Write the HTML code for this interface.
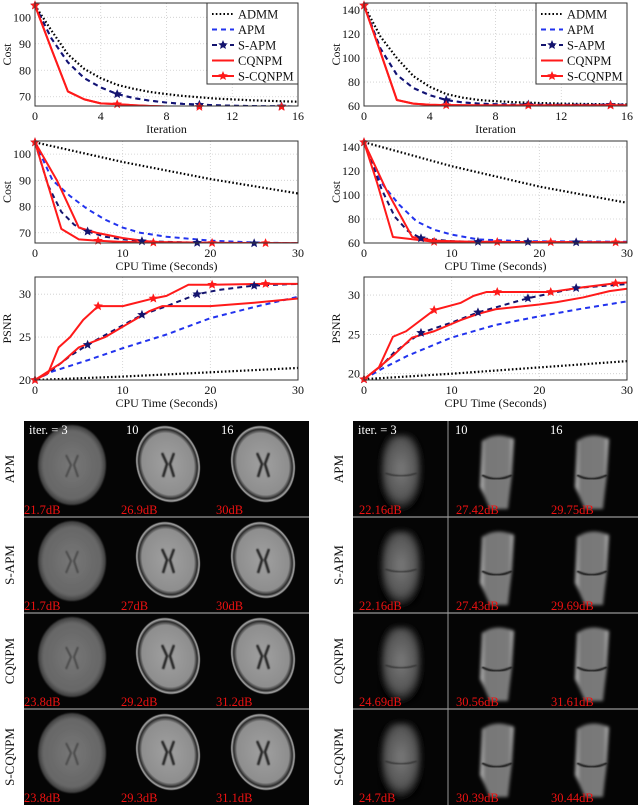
<!DOCTYPE html>
<html><head><meta charset="utf-8">
<style>
html,body{margin:0;padding:0;background:#fff;}
svg{display:block;font-family:"Liberation Serif",serif;}
</style></head>
<body>
<svg id="fig" width="640" height="806" viewBox="0 0 640 806" xmlns="http://www.w3.org/2000/svg">
<defs>
<radialGradient id="brainBlur" cx="50%" cy="50%" r="50%"><stop offset="0" stop-color="#777"/><stop offset="0.85" stop-color="#666"/><stop offset="1" stop-color="#3a3a3a"/></radialGradient>
<radialGradient id="brainSharp" cx="50%" cy="50%" r="50%"><stop offset="0" stop-color="#a0a0a0"/><stop offset="0.8" stop-color="#8e8e8e"/><stop offset="0.9" stop-color="#2a2a2a"/><stop offset="0.96" stop-color="#aaaaaa"/><stop offset="1" stop-color="#111"/></radialGradient>
<radialGradient id="kneeBlur" cx="50%" cy="45%" r="55%"><stop offset="0" stop-color="#7a7a7a"/><stop offset="0.7" stop-color="#555"/><stop offset="1" stop-color="#000"/></radialGradient>
<linearGradient id="kneeSharp" x1="0" x2="1" y1="0" y2="0"><stop offset="0" stop-color="#c8c8c8"/><stop offset="0.15" stop-color="#777"/><stop offset="0.85" stop-color="#7a7a7a"/><stop offset="1" stop-color="#bbb"/></linearGradient>
<filter id="blur3"><feGaussianBlur stdDeviation="3"/></filter>
<filter id="blur1"><feGaussianBlur stdDeviation="0.8"/></filter>
<filter id="blur15"><feGaussianBlur stdDeviation="1.5"/></filter>
</defs>
</svg>
<script>
// ---------- DATA ----------
const iterX = [0,1,2,3,4,5,6,7,8,9,10,11,12,13,14,15,16];
const brainIterAdmm = [104.5,95,86,80.5,77,74.5,73,71.8,71,70.3,69.8,69.3,69,68.7,68.5,68.3,68.1];
const brainIterApm  = [104.5,92,83,77,73.5,71,69.5,68.5,67.8,67.3,67,66.8,66.6,66.5,66.4,66.4,66.3];
const brainIterCq   = [104.5,88,72,69,67.5,67.2,66.8,66.5,66.3,66.3,66.2,66.2,66.2,66.2,66.2,66.2,66.2];
const kneeIterAdmm = [144,118,100,85,76,70,67,65,64,63.3,62.8,62.4,62,61.8,61.6,61.4,61.3];
const kneeIterApm  = [144,108,86,75,69,65,63,62,61.5,61.3,61.2,61.1,61,61,61,61,61];
const kneeIterCq   = [144,105,65,62,61,60.7,60.6,60.5,60.5,60.5,60.5,60.5,60.5,60.5,60.5,60.5,60.5];
const iterMarks = [0,5,10,15];

const bTimeAdmmX=[0,10,20,30], bTimeAdmmY=[104.5,97,90.5,85];
const bTimeApmX=[0,2,4,6,8,10,12,15,20,25,30], bTimeApmY=[104.5,90,84,79,75,72,70,68.5,67,66.3,66];
const bTimeSApmX=[0,1.5,3,4.5,6,8,10,12.2,18.5,25,30], bTimeSApmY=[104.5,88,78,73,70.5,68.5,67.5,66.8,66.2,66,66];
const bTimeSApmM=[0,6,12.2,18.5,25];
const bTimeCqX=[0,2.5,5,7,10,13.5,20,30], bTimeCqY=[104.5,90,72,70,68,66.5,66.2,66];
const bTimeSCqX=[0,1.5,3,5,7,10,15,30], bTimeSCqY=[104.5,88,71.5,67.5,67,66.5,66.2,66];
const bTimeSCqM=[0,7.2,13.5,20.2,26.3];

const kTimeAdmmX=[0,10,20,30], kTimeAdmmY=[144,124,107,93.5];
const kTimeApmX=[0,2,4,6,8,10,13,18,30], kTimeApmY=[144,110,92,78,71,67,63,61.5,61];
const kTimeSApmX=[0,2,3.5,5,6.5,10,13,30], kTimeSApmY=[144,105,82,70,64,61.5,61,60.5];
const kTimeSApmM=[0,6.5,13,18.7,24.2];
const kTimeCqX=[0,2.5,5.5,8,12,30], kTimeCqY=[144,105,65,62,61,60.5];
const kTimeSCqX=[0,1.5,3.3,8,30], kTimeSCqY=[144,110,65,61,60.5];
const kTimeSCqM=[0,8,15.2,21.3,28.7];

const bPsAdmmX=[0,10,20,30], bPsAdmmY=[20,20.4,20.9,21.4];
const bPsApmX=[0,2,6,10,15,20,25,30], bPsApmY=[20,21,22.3,23.7,25.3,27.2,28.5,29.7];
const bPsSApmX=[0,2,4,6,9,12.2,15,18.5,21,25,30], bPsSApmY=[20,21.2,22.8,24.1,25.8,27.6,28.6,30,30.5,31,31.2];
const bPsSApmM=[0,6,12.2,18.5,25];
const bPsCqX=[0,1.5,3,5,8,11,13,14.5,20,25,30], bPsCqY=[20,21,22,23.8,25,26.8,28,28.6,28.6,29,29.5];
const bPsSCqX=[0,1.5,2.7,4,5.5,7.2,10,13.5,15,17.5,20.2,26.3,30], bPsSCqY=[20,20.8,23.8,25,27,28.6,28.6,29.5,29.8,31.1,31.1,31.2,31.2];
const bPsSCqM=[0,7.2,13.5,20.2,26.3];

const kPsAdmmX=[0,10,20,30], kPsAdmmY=[19.3,20,20.8,21.6];
const kPsApmX=[0,2,5,10,15,20,25,30], kPsApmY=[19.3,20.6,22.3,24.6,26.2,27.3,28.3,29.2];
const kPsSApmX=[0,2,3.5,6.5,10,13,18.7,24.2,30], kPsSApmY=[19.3,21,22.8,25.2,26.5,27.8,29.6,30.9,31.4];
const kPsSApmM=[0,6.5,13,18.7,24.2];
const kPsCqX=[0,1.7,3.5,5.5,8,11,13,15,20,22,25,28,30], kPsCqY=[19.3,20.8,22.5,24.6,25.4,26.8,27.6,28.2,28.8,29.1,29.7,30.5,30.8];
const kPsSCqX=[0,1.7,3.3,4.8,8,10,11,12.5,14,15.2,21.3,25,28.7,30], kPsSCqY=[19.3,20.8,24.7,25.4,28.1,28.7,29,29.9,30.4,30.4,30.4,31,31.5,31.6];
const kPsSCqM=[0,8,15.2,21.3,28.7];

const legendLabels=["ADMM","APM","S-APM","CQNPM","S-CQNPM"];
const rowLabels=["APM","S-APM","CQNPM","S-CQNPM"];
const colLabels=["iter. = 3","10","16"];
const brainDb=[["21.7dB","26.9dB","30dB"],["21.7dB","27dB","30dB"],["23.8dB","29.2dB","31.2dB"],["23.8dB","29.3dB","31.1dB"]];
const kneeDb=[["22.16dB","27.42dB","29.75dB"],["22.16dB","27.43dB","29.69dB"],["24.69dB","30.56dB","31.61dB"],["24.7dB","30.39dB","30.44dB"]];

// ---------- DRAW ----------
const NS="http://www.w3.org/2000/svg";
const svg=document.getElementById('fig');
function mk(tag,attrs,parent){const e=document.createElementNS(NS,tag);for(const k in attrs)e.setAttribute(k,attrs[k]);(parent||svg).appendChild(e);return e;}
function txt(s,attrs,parent){const t=mk('text',attrs,parent);t.textContent=s;return t;}
const STY={
 admm:{stroke:'#000',dash:'1.6,2.2',w:2.2},
 apm:{stroke:'#2233ee',dash:'5,4',w:2},
 sapm:{stroke:'#14146e',dash:'5,4',w:2,mark:'#14146e'},
 cq:{stroke:'#ff1a1a',dash:'',w:2},
 scq:{stroke:'#ff1a1a',dash:'',w:2,mark:'#ff1a1a'}
};
function star(cx,cy,r,fill,parent,name){
  let d='';for(let i=0;i<10;i++){const a=-Math.PI/2+i*Math.PI/5;const rr=i%2?r*0.45:r;d+=(i?'L':'M')+(cx+rr*Math.cos(a)).toFixed(2)+','+(cy+rr*Math.sin(a)).toFixed(2);}
  const p=mk('path',{d:d+'Z',fill:fill},parent);
  
  
}
function interp(xs,ys,x){for(let i=0;i<xs.length-1;i++){if(x>=xs[i]&&x<=xs[i+1]){const t=(x-xs[i])/(xs[i+1]-xs[i]);return ys[i]+t*(ys[i+1]-ys[i]);}}return ys[ys.length-1];}

function panel(cfg){
  const g=mk('g',{});
  
  
  const sx=v=>cfg.x0+(v-cfg.xmin)/(cfg.xmax-cfg.xmin)*(cfg.x1-cfg.x0);
  const sy=v=>cfg.y1-(v-cfg.ymin)/(cfg.ymax-cfg.ymin)*(cfg.y1-cfg.y0);
  mk('rect',{x:cfg.x0,y:cfg.y0,width:cfg.x1-cfg.x0,height:cfg.y1-cfg.y0,fill:'#fff'},g);
  cfg.xt.forEach(v=>{const x=sx(v);
    mk('line',{x1:x,x2:x,y1:cfg.y0,y2:cfg.y1,stroke:'#ccc','stroke-dasharray':'1,2','stroke-width':0.8},g);
    const t=txt(String(v),{x:x,y:cfg.y1+14,'text-anchor':'middle','font-size':12,fill:'#111'},g);
    
    });
  cfg.yt.forEach(v=>{const y=sy(v);
    mk('line',{x1:cfg.x0,x2:cfg.x1,y1:y,y2:y,stroke:'#ccc','stroke-dasharray':'1,2','stroke-width':0.8},g);
    const t=txt(String(v),{x:cfg.x0-4,y:y+4,'text-anchor':'end','font-size':12,fill:'#111'},g);
    
    });
  const clip='clip'+cfg.name;
  const cp=mk('clipPath',{id:clip},g);mk('rect',{x:cfg.x0,y:cfg.y0,width:cfg.x1-cfg.x0,height:cfg.y1-cfg.y0},cp);
  const lg=mk('g',{'clip-path':'url(#'+clip+')'},g);
  cfg.series.forEach(s=>{
    const st=STY[s.k];
    const pts=s.x.map((v,i)=>sx(v).toFixed(2)+','+sy(s.y[i]).toFixed(2)).join(' ');
    const pl=mk('polyline',{points:pts,fill:'none',stroke:st.stroke,'stroke-width':st.w,'stroke-dasharray':st.dash,'stroke-linejoin':'round'},lg);
    
    
  });
  cfg.series.forEach(s=>{
    if(!s.m)return;
    s.m.forEach(mv=>star(sx(mv),sy(interp(s.x,s.y,mv)),5,STY[s.k].mark,g,'marker-'+s.k));
  });
  mk('rect',{x:cfg.x0,y:cfg.y0,width:cfg.x1-cfg.x0,height:cfg.y1-cfg.y0,fill:'none',stroke:'#333','stroke-width':1},g);
  const yl=txt(cfg.ylab,{x:0,y:0,transform:`translate(${cfg.x0-24},${(cfg.y0+cfg.y1)/2}) rotate(-90)`,'text-anchor':'middle','font-size':12,fill:'#111'},g);
  
  
  if(cfg.xlab){const xl=txt(cfg.xlab,{x:(cfg.x0+cfg.x1)/2,y:cfg.y1+27,'text-anchor':'middle','font-size':12,fill:'#111'},g);
    
    }
  if(cfg.legend){
    const lx=cfg.x1-91,ly=cfg.y0;
    const lgd=mk('g',{},g);
    
    
    mk('rect',{x:lx,y:ly,width:91,height:81,fill:'#fff',stroke:'#333','stroke-width':1},lgd);
    ['admm','apm','sapm','cq','scq'].forEach((k,i)=>{
      const st=STY[k];const y=ly+11+i*15.5;
      mk('line',{x1:lx+5,x2:lx+27,y1:y,y2:y,stroke:st.stroke,'stroke-width':2,'stroke-dasharray':st.dash},lgd);
      if(st.mark)star(lx+16,y,5,st.mark,lgd,'legend-marker');
      const t=txt(legendLabels[i],{x:lx+31,y:y+4.5,'font-size':12.5,fill:'#111'},lgd);
      
      
    });
  }
}
const L={x0:35,x1:298},R={x0:364,x1:627};
const it=[0,4,8,12,16],tt=[0,10,20,30];
panel({name:'brain-cost-iter',x0:L.x0,x1:L.x1,y0:3,y1:106,xmin:0,xmax:16,ymin:66.5,ymax:105.4,xt:it,yt:[70,80,90,100],ylab:'Cost',xlab:'Iteration',legend:true,
 series:[{k:'admm',x:iterX,y:brainIterAdmm},{k:'apm',x:iterX,y:brainIterApm},{k:'sapm',x:iterX,y:brainIterApm,m:iterMarks},{k:'cq',x:iterX,y:brainIterCq},{k:'scq',x:iterX,y:brainIterCq,m:iterMarks}]});
panel({name:'knee-cost-iter',x0:R.x0,x1:R.x1,y0:3,y1:106,xmin:0,xmax:16,ymin:60,ymax:146,xt:it,yt:[60,80,100,120,140],ylab:'Cost',xlab:'Iteration',legend:true,
 series:[{k:'admm',x:iterX,y:kneeIterAdmm},{k:'apm',x:iterX,y:kneeIterApm},{k:'sapm',x:iterX,y:kneeIterApm,m:iterMarks},{k:'cq',x:iterX,y:kneeIterCq},{k:'scq',x:iterX,y:kneeIterCq,m:iterMarks}]});
panel({name:'brain-cost-time',x0:L.x0,x1:L.x1,y0:141,y1:243,xmin:0,xmax:30,ymin:66.1,ymax:105,xt:tt,yt:[70,80,90,100],ylab:'Cost',xlab:'CPU Time (Seconds)',
 series:[{k:'admm',x:bTimeAdmmX,y:bTimeAdmmY},{k:'apm',x:bTimeApmX,y:bTimeApmY},{k:'sapm',x:bTimeSApmX,y:bTimeSApmY,m:bTimeSApmM},{k:'cq',x:bTimeCqX,y:bTimeCqY},{k:'scq',x:bTimeSCqX,y:bTimeSCqY,m:bTimeSCqM}]});
panel({name:'knee-cost-time',x0:R.x0,x1:R.x1,y0:141,y1:243,xmin:0,xmax:30,ymin:60,ymax:145,xt:tt,yt:[60,80,100,120,140],ylab:'Cost',xlab:'CPU Time (Seconds)',
 series:[{k:'admm',x:kTimeAdmmX,y:kTimeAdmmY},{k:'apm',x:kTimeApmX,y:kTimeApmY},{k:'sapm',x:kTimeSApmX,y:kTimeSApmY,m:kTimeSApmM},{k:'cq',x:kTimeCqX,y:kTimeCqY},{k:'scq',x:kTimeSCqX,y:kTimeSCqY,m:kTimeSCqM}]});
panel({name:'brain-psnr-time',x0:L.x0,x1:L.x1,y0:277,y1:380,xmin:0,xmax:30,ymin:20,ymax:32,xt:tt,yt:[20,25,30],ylab:'PSNR',xlab:'CPU Time (Seconds)',
 series:[{k:'admm',x:bPsAdmmX,y:bPsAdmmY},{k:'apm',x:bPsApmX,y:bPsApmY},{k:'sapm',x:bPsSApmX,y:bPsSApmY,m:bPsSApmM},{k:'cq',x:bPsCqX,y:bPsCqY},{k:'scq',x:bPsSCqX,y:bPsSCqY,m:bPsSCqM}]});
panel({name:'knee-psnr-time',x0:R.x0,x1:R.x1,y0:277,y1:380,xmin:0,xmax:30,ymin:19.2,ymax:32.3,xt:tt,yt:[20,25,30],ylab:'PSNR',xlab:'CPU Time (Seconds)',
 series:[{k:'admm',x:kPsAdmmX,y:kPsAdmmY},{k:'apm',x:kPsApmX,y:kPsApmY},{k:'sapm',x:kPsSApmX,y:kPsSApmY,m:kPsSApmM},{k:'cq',x:kPsCqX,y:kPsCqY},{k:'scq',x:kPsSCqX,y:kPsSCqY,m:kPsSCqM}]});

// ---------- IMAGE GRIDS ----------
function grid(gx,labX,dbs,kind){
  const g=mk('g',{});
  
  
  const cw=95,rh=96,top=421;
  mk('rect',{x:gx,y:top,width:cw*3,height:rh*4,fill:'#050505'},g);
  for(let r=0;r<4;r++){
    const ry=top+r*rh;
    const rl=txt(rowLabels[r],{x:0,y:0,transform:`translate(${labX},${ry+rh/2}) rotate(-90)`,'text-anchor':'middle','font-size':13,fill:'#111'},g);
    
    
    for(let c=0;c<3;c++){
      const cx=gx+c*cw;
      const cell=mk('g',{},g);
      
      
      if(kind==='brain'){
        if(c===0){mk('ellipse',{cx:cx+48,cy:ry+44,rx:34,ry:40,fill:'url(#brainBlur)',filter:'url(#blur1)'},cell);
          mk('path',{d:`M${cx+42},${ry+34} L${cx+47},${ry+44} L${cx+42},${ry+56} M${cx+54},${ry+34} L${cx+50},${ry+44} L${cx+54},${ry+56}`,stroke:'#4a4a4a','stroke-width':2,fill:'none',filter:'url(#blur1)'},cell);}
        else{mk('ellipse',{cx:cx+49,cy:ry+43,rx:32,ry:39,fill:'url(#brainSharp)',transform:`rotate(-15 ${cx+49} ${ry+43})`},cell);
          mk('path',{d:`M${cx+43},${ry+32} L${cx+48},${ry+43} L${cx+44},${ry+56} M${cx+55},${ry+32} L${cx+51},${ry+43} L${cx+55},${ry+56}`,stroke:'#222','stroke-width':2.5,fill:'none',filter:'url(#blur1)'},cell);}
      }else{
        if(c===0){mk('rect',{x:cx+28,y:ry+14,width:40,height:76,rx:16,fill:'url(#kneeBlur)',filter:'url(#blur3)'},cell);
          mk('path',{d:`M${cx+32},${ry+52} Q${cx+48},${ry+58} ${cx+64},${ry+52}`,stroke:'#333','stroke-width':1.5,fill:'none',filter:'url(#blur1)'},cell);}
        else{mk('path',{d:`M${cx+34},${ry+20} Q${cx+48},${ry+10} ${cx+66},${ry+18} L${cx+64},${ry+52} L${cx+60},${ry+88} L${cx+42},${ry+88} L${cx+32},${ry+66} Z`,fill:'url(#kneeSharp)',filter:'url(#blur15)'},cell);
          mk('path',{d:`M${cx+34},${ry+54} Q${cx+48},${ry+62} ${cx+64},${ry+54}`,stroke:'#151515','stroke-width':2,fill:'none',filter:'url(#blur1)'},cell);}
      }
      if(r===0){const t=txt(colLabels[c],{x:cx+(c===0?5:7),y:ry+13,'font-size':12.5,fill:'#fff'},cell);
        
        }
      const d=txt(dbs[r][c],{x:cx+(kind==='knee'?6:0)+(c===0?0:2),y:ry+93,'font-size':12.5,fill:'#ee1111'},cell);
      
      
    }
    if(r>0)mk('line',{x1:gx,x2:gx+cw*3,y1:ry,y2:ry,stroke:'#bbb','stroke-width':1},g);
  }
  if(kind==='knee')mk('line',{x1:gx+cw,x2:gx+cw,y1:top,y2:top+rh*4,stroke:'#999','stroke-width':1},g);
}
grid(24,14,brainDb,'brain');
grid(353,343,kneeDb,'knee');
</script>
</body></html>
